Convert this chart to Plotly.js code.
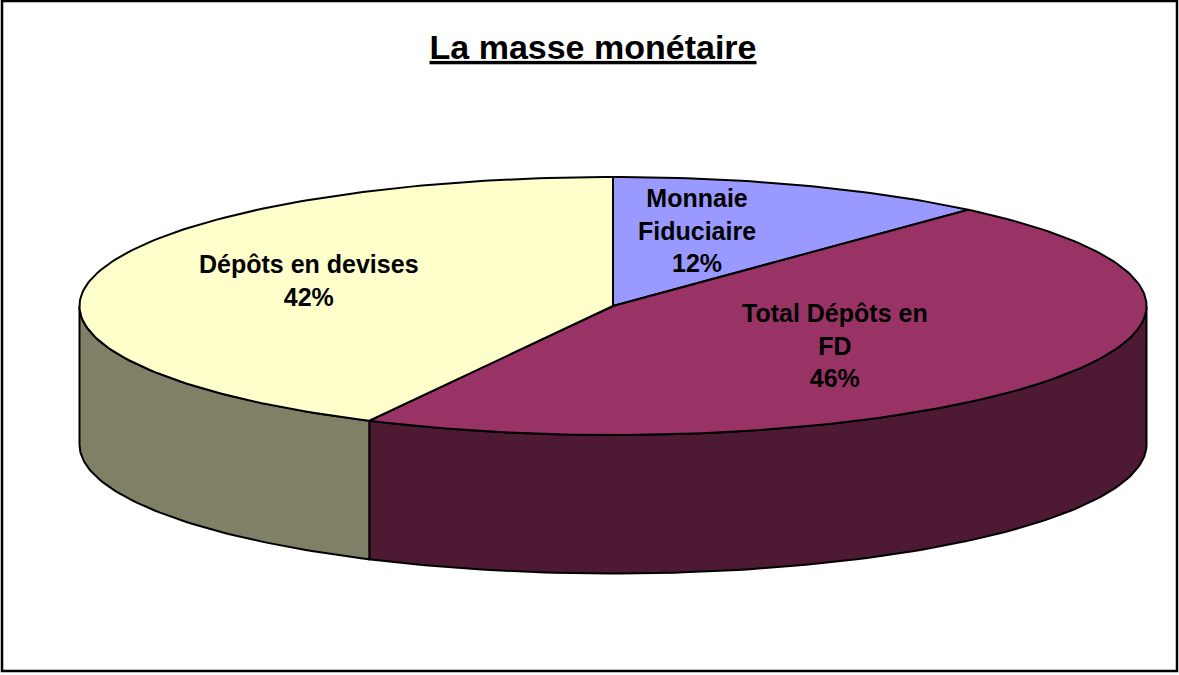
<!DOCTYPE html>
<html><head><meta charset="utf-8">
<script src="https://cdn.plot.ly/plotly-3.0.1.min.js"></script>
<style>html,body{margin:0;padding:0;background:#fff}#c{width:1179px;height:675px}</style>
</head><body><div id="c"></div>
<script>
const categories = ['Monnaie<br>Fiduciaire', 'Total Dépôts en<br>FD', 'Dépôts en devises'];
const shares = [11.6, 45.95, 42.45];
const topColors = ['#9999FF', '#993366', '#FFFFCC'];
const wallColors = ['#4D4D80', '#4D1933', '#808066'];
const labelX = [697, 835, 309];
const labelY = [230, 345, 280];
const cx = 613, cy = 306, rx = 533.5, ry = 129, depth = 138.5;

const total = shares.reduce((a, b) => a + b, 0);
const px = a => cx + rx * Math.sin(a);
const py = a => cy - ry * Math.cos(a);
const STEP = Math.PI / 180;
function arc(a0, a1) {
  const n = Math.max(2, Math.ceil((a1 - a0) / STEP)), pts = [];
  for (let i = 0; i <= n; i++) pts.push(a0 + (a1 - a0) * i / n);
  return pts;
}
const line = {color: '#000', width: 2};
const wallTraces = [], topTraces = [];
let cum = 0;
shares.forEach((v, i) => {
  const a0 = cum / total * 2 * Math.PI;
  cum += v;
  const a1 = cum / total * 2 * Math.PI;
  const pts = arc(a0, a1);
  topTraces.push({
    type: 'scatter', mode: 'lines', fill: 'toself', fillcolor: topColors[i], line,
    x: [cx, ...pts.map(px), cx], y: [cy, ...pts.map(py), cy],
    name: categories[i].replace('<br>', ' '), hoverinfo: 'name'
  });
  const w0 = Math.max(a0, Math.PI / 2), w1 = Math.min(a1, 3 * Math.PI / 2);
  if (w1 > w0) {
    const w = arc(w0, w1);
    wallTraces.push({
      type: 'scatter', mode: 'lines', fill: 'toself', fillcolor: wallColors[i], line,
      x: [...w.map(px), ...w.slice().reverse().map(px), px(w[0])],
      y: [...w.map(py), ...w.slice().reverse().map(a => py(a) + depth), py(w[0])],
      name: categories[i].replace('<br>', ' '), hoverinfo: 'skip'
    });
  }
});
const annotations = categories.map((c, i) => ({
  x: labelX[i], y: labelY[i], xref: 'x', yref: 'y', showarrow: false, align: 'center',
  text: c + '<br>' + Math.round(shares[i] / total * 100) + '%',
  font: {family: '"Liberation Sans", Arial, sans-serif', size: 25, color: '#000', weight: 700}
}));
const layout = {
  width: 1179, height: 675, showlegend: false,
  margin: {l: 0, r: 0, t: 0, b: 0},
  paper_bgcolor: '#fff', plot_bgcolor: '#fff',
  xaxis: {range: [0, 1179], visible: false, fixedrange: true},
  yaxis: {range: [675, 0], visible: false, fixedrange: true},
  title: {
    text: '<b><u>La masse monétaire</u></b>',
    font: {family: '"Liberation Sans", Arial, sans-serif', size: 34, color: '#000'},
    x: 593 / 1179, xanchor: 'center', y: 1 - 47 / 675, yanchor: 'middle'
  },
  shapes: [{type: 'rect', xref: 'x', yref: 'y', x0: 2, x1: 1177, y0: 1, y1: 671, line: {color: '#000', width: 2.5}}],
  annotations
};
Plotly.newPlot('c', [...wallTraces, ...topTraces], layout, {displayModeBar: false, staticPlot: true});
</script></body></html>
